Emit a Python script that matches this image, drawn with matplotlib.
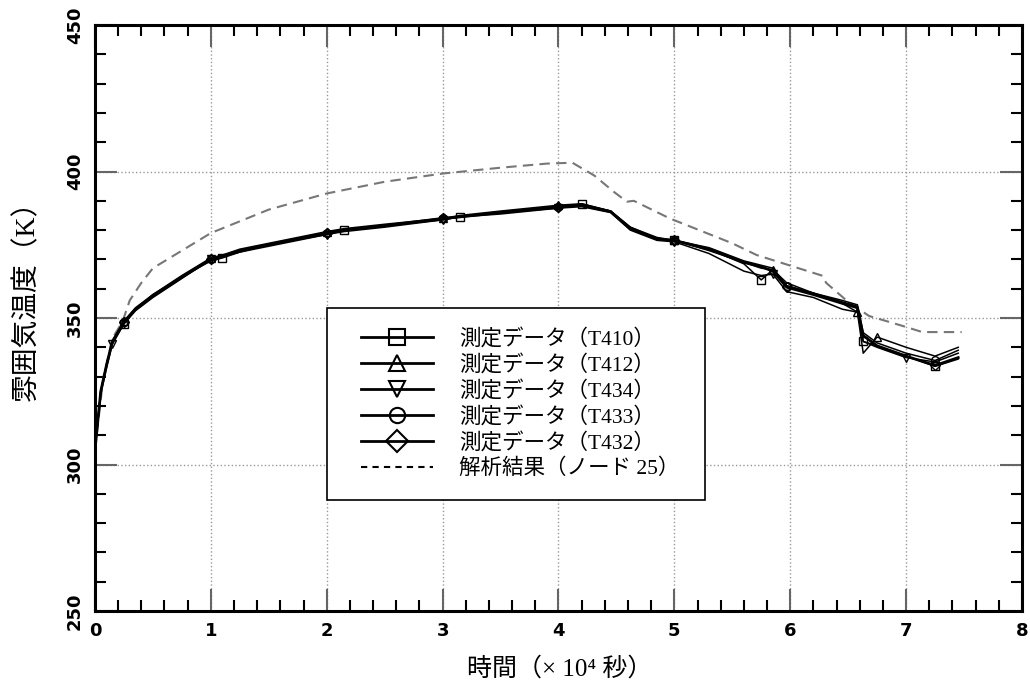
import matplotlib
matplotlib.use("Agg")
import matplotlib.pyplot as plt
from matplotlib.lines import Line2D
from matplotlib.legend_handler import HandlerLine2D
from matplotlib.ticker import MultipleLocator

# time axis (x 10^4 s), shared by the measured series
t_meas = [0, 0.05, 0.1, 0.15, 0.25, 0.35, 0.5, 0.75, 1.0, 1.1, 1.25, 1.5,
          2.0, 2.15, 2.5, 3.0, 3.15, 3.5, 4.0, 4.2, 4.45, 4.62, 4.85, 5.0,
          5.3, 5.6, 5.75, 5.85, 5.97, 6.2, 6.45, 6.58, 6.63, 6.75, 7.0,
          7.25, 7.45]

T410 = [305, 325, 334, 342, 348, 353, 357.5, 364, 369.5, 370.5, 372.5, 375,
        378.5, 380, 381.5, 383.5, 384.5, 386, 387.5, 389, 386.5, 381, 377.5, 376.5,
        373.5, 368.5, 363, 366.5, 361, 358.5, 355.5, 354, 342, 340.5, 337,
        333.5, 336]
T412 = [305, 325, 334, 342, 349, 353.5, 358, 364.5, 370.5, 371.5, 373.5, 375.5,
        379.5, 380.5, 382, 384, 385, 386.5, 388.5, 389, 386.5, 380.5, 377, 376.5,
        373, 369, 367, 366.5, 362, 358.5, 355, 352, 338, 343.5, 340,
        337, 340]
T434 = [305, 324, 333, 341, 348, 352.5, 357, 363.5, 370, 371, 372.5, 374.5,
        378.5, 379.5, 381, 383.5, 384.5, 385.5, 387.5, 388, 386, 380, 376.5, 376,
        372, 366, 364.5, 365, 359, 357, 353, 352, 342, 340, 336.5,
        335, 338]
T433 = [305, 325, 334, 342, 348.5, 353, 358, 364, 370, 371, 373, 375,
        379, 380, 381.5, 384, 384.5, 386, 388, 388.5, 386.5, 381, 377, 376.5,
        374, 369.5, 368, 367, 361, 358.5, 356, 354.5, 345, 341.5, 338,
        335.5, 339]
T432 = [305, 325, 334, 342, 348.5, 353, 357.5, 364, 370, 371, 373, 375,
        379, 380, 381.5, 384, 384.5, 386, 388, 388.5, 386.3, 380.5, 377, 376.5,
        373.5, 369, 367.5, 366, 360.5, 358, 355, 353.5, 344, 340.5, 337,
        333.8, 336.5]

# analysis result (node 25)
t_calc = [0, 0.07, 0.15, 0.24, 0.3, 0.4, 0.5, 0.75, 1.0, 1.5, 2.0, 2.5, 3.0,
          3.5, 3.9, 4.12, 4.31, 4.48, 4.59, 4.65, 4.96, 5.5, 5.71, 6.28, 6.31,
          6.5, 6.68, 6.97, 7.14, 7.48]
T_calc = [305, 329, 343, 349, 356, 362, 367, 373, 379, 387, 392.5, 396.5, 399.3,
          401.3, 402.7, 403, 398.6, 393, 389.7, 390, 384, 375.5, 371.5, 364.4, 362,
          355.5, 350.7, 347.3, 345.2, 345.2]

labels = ["測定データ（T410）", "測定データ（T412）", "測定データ（T434）",
          "測定データ（T433）", "測定データ（T432）", "解析結果（ノード 25）"]
markers = ["s", "^", "v", "o", "D"]
mark_idx = [[4, 9, 13, 16, 19, 23, 26, 32, 35],
            [4, 8, 12, 15, 18, 23, 27, 31, 33],
            [3, 8, 12, 15, 18, 23, 27, 34],
            [4, 8, 12, 15, 18, 23, 28, 35],
            [4, 8, 12, 15, 18, 23, 28, 35]]

jp = ["Liberation Serif", "Noto Sans CJK JP", "DejaVu Sans"]

fig = plt.figure(figsize=(10.3, 6.87), dpi=100)
ax = fig.add_axes([0.0922, 0.1106, 0.9, 0.853])

series = [T410, T412, T434, T433, T432]
for i, ys in enumerate(series):
    ax.plot(t_meas, ys, color="black", lw=2.0 if i == 4 else 1.1,
            marker=markers[i], markevery=mark_idx[i], ms=5.5,
            mfc="none", mec="black", mew=1.0, zorder=3)
ax.plot(t_calc, T_calc, color="#777777", lw=1.5, ls=(0, (5, 3)), zorder=2)

ax.set_xlim(0, 8)
ax.set_ylim(250, 450)
ax.xaxis.set_major_locator(MultipleLocator(1))
ax.xaxis.set_minor_locator(MultipleLocator(0.2))
ax.yaxis.set_major_locator(MultipleLocator(50))
ax.yaxis.set_minor_locator(MultipleLocator(10))
ax.grid(True, which="major", color="#999999", ls=":", lw=1.0)
ax.tick_params(which="both", direction="in", top=True, right=True)
ax.tick_params(which="major", length=16, width=1.5, color="#666666")
ax.tick_params(which="minor", length=8, width=1.5, color="black")
ax.tick_params(axis="x", pad=8)
ax.tick_params(axis="y", pad=8)
for sp in ax.spines.values():
    sp.set_linewidth(2.2)

for lab in ax.get_xticklabels():
    lab.set_fontweight("bold")
    lab.set_fontsize(13)
for lab in ax.get_yticklabels():
    lab.set_fontweight("bold")
    lab.set_fontsize(13)
    lab.set_rotation(90)
    lab.set_va("center")

fig.text(0.026, 0.572, "雰囲気温度（K）", rotation=90, ha="center", va="center",
         fontsize=20, family=jp)
fig.text(0.543, 0.027, "時間（× 10⁴ 秒）", ha="center", va="center",
         fontsize=18, family=jp)

handles = [Line2D([], [], color="black", lw=2, marker=m, ms=11, mfc="none",
                  mec="black", mew=1.5) for m in markers]
handles.append(Line2D([], [], color="black", lw=1.5, ls=(0, (3, 2.5))))
hmap = {h: HandlerLine2D(xpad=0.65) for h in handles}
leg = fig.legend(handles, labels, loc="upper left", mode="expand",
                 bbox_to_anchor=(0.317, 0.278, 0.367, 0.274),
                 handler_map=hmap,
                 prop={"family": jp, "size": 15.5},
                 handlelength=4.0, labelspacing=0.24, handletextpad=1.2,
                 borderpad=0.95, borderaxespad=0, fancybox=False,
                 edgecolor="black", framealpha=1)
leg.get_frame().set_linewidth(1.2)

plt.savefig("out.png", dpi=100)
